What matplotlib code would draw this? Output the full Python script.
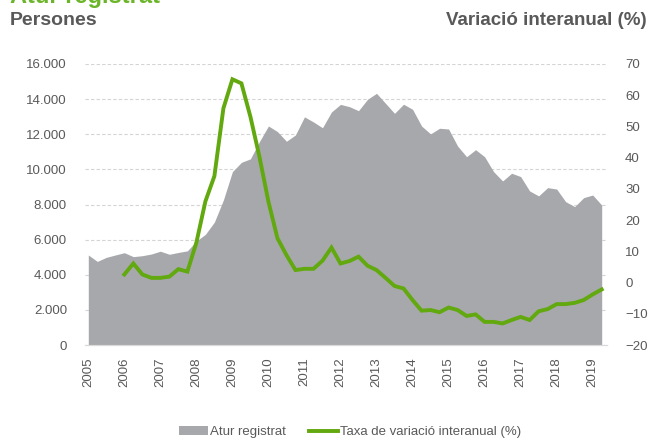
import numpy as np
import matplotlib
matplotlib.use('Agg')
import matplotlib.pyplot as plt
from matplotlib.ticker import FuncFormatter
from matplotlib.patches import Patch
from matplotlib.lines import Line2D

# Quarterly data, 2005 Q1 - 2019 Q2
start_year = 2005
atur = [5125, 4760, 4990, 5125, 5255, 5030, 5085, 5180, 5340, 5165,
        5270, 5360, 5920, 6300, 7000, 8260, 9870, 10400, 10600, 11580,
        12470, 12150, 11600, 11960, 12990, 12700, 12370, 13270, 13700, 13570,
        13340, 13990, 14330, 13760, 13190, 13710, 13420, 12470, 12020, 12340,
        12300, 11330, 10720, 11120, 10720, 9870, 9340, 9780, 9590, 8770,
        8490, 8960, 8880, 8160, 7880, 8390, 8540, 7970]
# year-on-year change (%), available from 2006 Q1
taxa = [2.6, 6.1, 2.6, 1.5, 1.5, 1.9, 4.3, 3.5, 12.8, 26.0,
        34.1, 55.8, 65.1, 63.8, 53.1, 40.3, 25.9, 14.2, 8.8, 4.0,
        4.4, 4.4, 7.0, 11.2, 6.1, 6.9, 8.3, 5.4, 4.0, 1.5,
        -1.1, -1.9, -5.6, -9.0, -8.8, -9.5, -8.0, -8.8, -10.7, -10.2,
        -12.6, -12.6, -13.1, -12.0, -11.0, -12.0, -9.2, -8.5, -6.9, -6.9,
        -6.5, -5.6, -3.8, -2.2]
years = list(range(2005, 2020))

gray = '#a7a8ac'
green = '#62a80f'
text_col = '#595959'
font = ['Liberation Sans', 'DejaVu Sans']
tick_size = 9.5

t = start_year + np.arange(len(atur)) / 4
t_taxa = t[len(atur) - len(taxa):]

fig = plt.figure(figsize=(6.53, 4.41), dpi=100)
ax = fig.add_axes([85 / 653, 1 - 345 / 441, 522 / 653, 281 / 441])
ax2 = ax.twinx()

# gray area (left axis)
ax.fill_between(t, atur, 0, color=gray, linewidth=0, zorder=2)
ax.set_ylim(0, 16000)
ax.set_yticks(range(0, 16001, 2000))
ax.yaxis.set_major_formatter(FuncFormatter(lambda v, p: f'{v:,.0f}'.replace(',', '.')))
ax.set_xlim(start_year - 3.3 / 36, 2019.25 + 5.3 / 36)
ax.set_xticks(years)
ax.set_xticklabels([str(y) for y in years], rotation=90)
ax.grid(axis='y', color='#d4d4d4', linestyle=(0, (3, 2)), linewidth=0.8, zorder=1)
ax.set_axisbelow(True)

# green line (right axis)
ax2.plot(t_taxa, taxa, color=green, linewidth=2.8, zorder=3, solid_joinstyle='miter')
ax2.set_ylim(-20, 70)
ax2.set_yticks(range(-20, 71, 10))

for a in (ax, ax2):
    for s in ['top', 'left', 'right']:
        a.spines[s].set_visible(False)
    a.spines['bottom'].set_color('#d9d9d9')
    a.tick_params(length=0, colors=text_col, labelsize=tick_size)
    for lab in a.get_xticklabels() + a.get_yticklabels():
        lab.set_fontfamily(font)
ax.tick_params(axis='y', pad=13)
ax.tick_params(axis='x', pad=9)
ax2.tick_params(axis='y', pad=13)

# headings (the green title is cut by the top edge, as in the source)
fig.text(10 / 653, 1 - 3 / 441, 'Atur registrat', color='#6cb52a', fontsize=17,
         fontweight='bold', family=font, va='baseline', ha='left')
fig.text(10 / 653, 1 - 20.5 / 441, 'Persones', color=text_col, fontsize=14,
         fontweight='bold', family=font, va='center', ha='left')
fig.text(647 / 653, 1 - 20.5 / 441, 'Variació interanual (%)', color=text_col,
         fontsize=13.5, fontweight='bold', family=font, va='center', ha='right')

# legend
handles = [Patch(facecolor=gray, edgecolor='none'),
           Line2D([0], [0], color=green, linewidth=2.8)]
leg = fig.legend(handles, ['Atur registrat', 'Taxa de variació interanual (%)'],
                 loc='center', bbox_to_anchor=(350 / 653, 1 - 432 / 441), ncol=2,
                 frameon=False, handlelength=2.2, handleheight=0.6,
                 handletextpad=0.1, columnspacing=1.8,
                 prop={'family': font, 'size': tick_size})
for txt in leg.get_texts():
    txt.set_color(text_col)

fig.savefig('out.png', dpi=100)
